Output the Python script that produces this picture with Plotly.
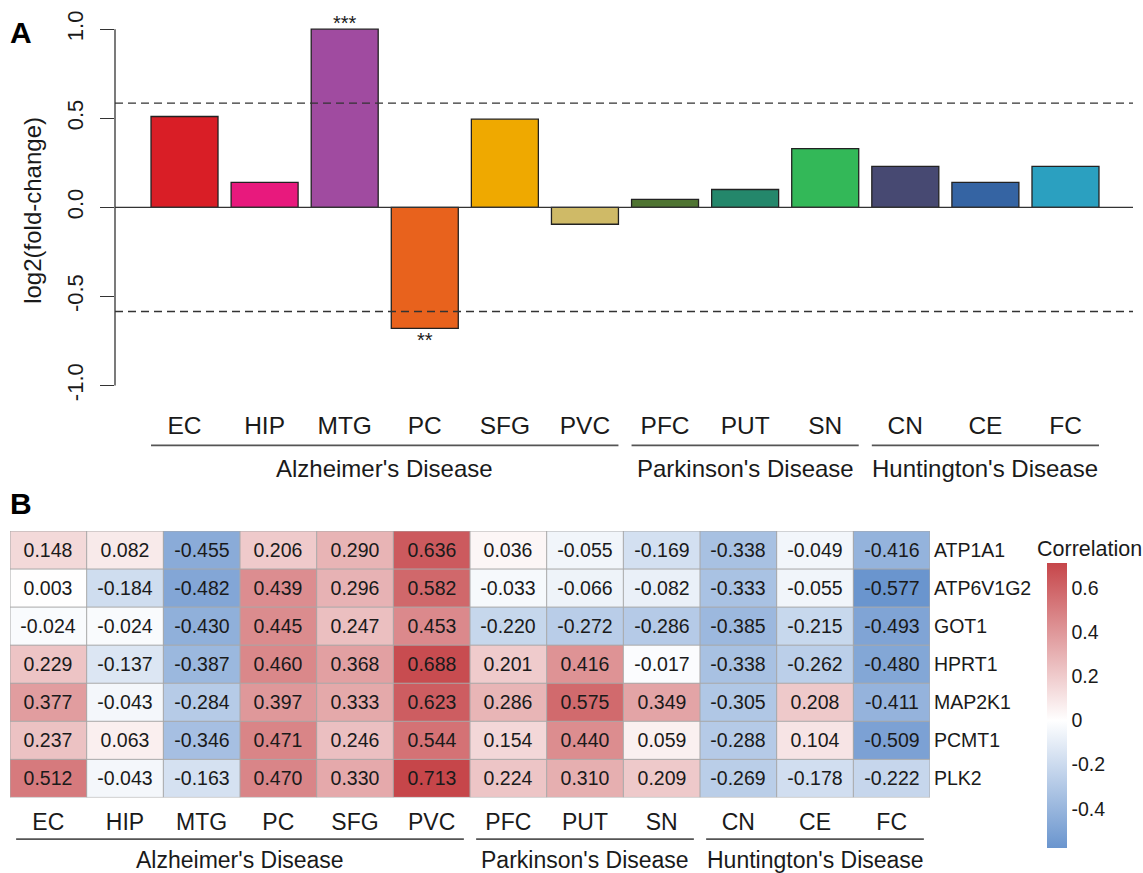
import plotly.graph_objects as go

# ---------------- data ----------------
tissues = ["EC", "HIP", "MTG", "PC", "SFG", "PVC", "PFC", "PUT", "SN", "CN", "CE", "FC"]
log2_fc = [0.51, 0.14, 1.00, -0.68, 0.495, -0.095, 0.045, 0.10, 0.33, 0.23, 0.14, 0.23]
significance = ["", "", "***", "**", "", "", "", "", "", "", "", ""]
bar_colors = ["#D91E26", "#E8197D", "#A04BA0", "#E8621D", "#EFA900", "#CFBA67",
              "#4F7432", "#24876B", "#33B858", "#474972", "#3564A3", "#2BA0C0"]
fc_threshold = 0.585
bar_yticks = [-1.0, -0.5, 0.0, 0.5, 1.0]
bar_yticklabels = ["-1.0", "-0.5", "0.0", "0.5", "1.0"]

diseases = ["Alzheimer's Disease", "Parkinson's Disease", "Huntington's Disease"]
disease_sizes = [6, 3, 3]

genes = ["ATP1A1", "ATP6V1G2", "GOT1", "HPRT1", "MAP2K1", "PCMT1", "PLK2"]
corr = [
    [0.148, 0.082, -0.455, 0.206, 0.290, 0.636, 0.036, -0.055, -0.169, -0.338, -0.049, -0.416],
    [0.003, -0.184, -0.482, 0.439, 0.296, 0.582, -0.033, -0.066, -0.082, -0.333, -0.055, -0.577],
    [-0.024, -0.024, -0.430, 0.445, 0.247, 0.453, -0.220, -0.272, -0.286, -0.385, -0.215, -0.493],
    [0.229, -0.137, -0.387, 0.460, 0.368, 0.688, 0.201, 0.416, -0.017, -0.338, -0.262, -0.480],
    [0.377, -0.043, -0.284, 0.397, 0.333, 0.623, 0.286, 0.575, 0.349, -0.305, 0.208, -0.411],
    [0.237, 0.063, -0.346, 0.471, 0.246, 0.544, 0.154, 0.440, 0.059, -0.288, 0.104, -0.509],
    [0.512, -0.043, -0.163, 0.470, 0.330, 0.713, 0.224, 0.310, 0.209, -0.269, -0.178, -0.222],
]
cbar_ticks = [-0.4, -0.2, 0, 0.2, 0.4, 0.6]
cbar_ticklabels = ["-0.4", "-0.2", "0", "0.2", "0.4", "0.6"]

# ---------------- geometry (pixels) ----------------
W, H = 1143, 873
FONT = "Liberation Sans, Arial, Helvetica, sans-serif"
INK = "#1a1a1a"


def px_x(p):
    return p / W


def px_y(p):
    return 1 - p / H


bar_width = 0.8365
xpos = list(range(len(tissues)))
ncol, nrow = len(tissues), len(genes)
zmin = min(min(r) for r in corr)
zmax = max(max(r) for r in corr)
zero_frac = -zmin / (zmax - zmin)

fig = go.Figure()

# ---------------- panel A: bar chart ----------------
fig.add_trace(go.Bar(
    x=xpos, y=log2_fc, width=bar_width,
    marker=dict(color=bar_colors, line=dict(color="#222222", width=1.3)),
    xaxis="x", yaxis="y", showlegend=False, hoverinfo="x+y",
))

# ---------------- panel B: heatmap ----------------
fig.add_trace(go.Heatmap(
    z=corr, x=list(range(ncol)), y=list(range(nrow)),
    zmin=zmin, zmax=zmax,
    colorscale=[[0, "#6A95CE"], [zero_frac, "#FFFFFF"], [1, "#C6464A"]],
    texttemplate="%{z:.3f}",
    textfont=dict(family=FONT, size=19.5, color=INK),
    xaxis="x2", yaxis="y2",
    colorbar=dict(
        x=px_x(1047), xanchor="left", y=px_y(705.5), yanchor="middle",
        len=285, lenmode="pixels", thickness=20, thicknessmode="pixels",
        outlinewidth=0, ticks="", tickvals=cbar_ticks, ticktext=cbar_ticklabels,
        tickfont=dict(family=FONT, size=19.5, color=INK), xpad=0, ypad=0,
    ),
))

shapes = []
annotations = []

# reference lines of panel A
for yv, dash in [(fc_threshold, "8px,5px"), (-fc_threshold, "8px,5px"), (0, "solid")]:
    shapes.append(dict(type="line", xref="x domain", yref="y", x0=0, x1=1, y0=yv, y1=yv,
                       line=dict(color="#333333", width=1.4, dash=dash), layer="above"))
# y axis line spanning the tick range
shapes.append(dict(type="line", xref="x domain", yref="y", x0=0, x1=0,
                   y0=bar_yticks[0], y1=bar_yticks[-1], line=dict(color="#333333", width=1.3)))

# significance stars
for i, (v, s) in enumerate(zip(log2_fc, significance)):
    if s:
        annotations.append(dict(x=i, y=v, xref="x", yref="y", text=s, showarrow=False,
                                yanchor="middle", yshift=6 if v > 0 else -12,
                                font=dict(family=FONT, size=20, color=INK)))

# disease grouping under both panels
start = 0
for name, n in zip(diseases, disease_sizes):
    end = start + n - 1
    # panel A
    x0 = start - bar_width / 2
    x1 = end + bar_width / 2
    shapes.append(dict(type="line", xref="x", yref="paper", x0=x0, x1=x1,
                       y0=px_y(444), y1=px_y(444), line=dict(color="#555555", width=1.8)))
    annotations.append(dict(x=(x0 + x1) / 2, y=px_y(467), xref="x", yref="paper", text=name,
                            showarrow=False, xanchor="center", yanchor="middle",
                            font=dict(family=FONT, size=24, color=INK)))
    # panel B
    inset = 0.08
    hx0 = start - 0.5 + inset
    hx1 = end + 0.5 - inset
    shapes.append(dict(type="line", xref="x2", yref="paper", x0=hx0, x1=hx1,
                       y0=px_y(840), y1=px_y(840), line=dict(color="#555555", width=1.8)))
    annotations.append(dict(x=(hx0 + hx1) / 2, y=px_y(861), xref="x2", yref="paper", text=name,
                            showarrow=False, xanchor="center", yanchor="middle",
                            font=dict(family=FONT, size=23, color=INK)))
    start += n

# heatmap cell borders
for k in range(ncol + 1):
    shapes.append(dict(type="line", xref="x2", yref="y2", x0=k - 0.5, x1=k - 0.5,
                       y0=-0.5, y1=nrow - 0.5, line=dict(color="#A8A8A8", width=1), layer="above"))
for k in range(nrow + 1):
    shapes.append(dict(type="line", xref="x2", yref="y2", x0=-0.5, x1=ncol - 0.5,
                       y0=k - 0.5, y1=k - 0.5, line=dict(color="#A8A8A8", width=1), layer="above"))

# panel letters, axis title, colorbar title
annotations += [
    dict(x=px_x(21), y=px_y(29), xref="paper", yref="paper", text="<b>A</b>", showarrow=False,
         xanchor="center", yanchor="middle", font=dict(family=FONT, size=30, color="#000000")),
    dict(x=px_x(21), y=px_y(502), xref="paper", yref="paper", text="<b>B</b>", showarrow=False,
         xanchor="center", yanchor="middle", font=dict(family=FONT, size=30, color="#000000")),
    dict(x=px_x(33), y=px_y(208), xref="paper", yref="paper", text="log2(fold-change)",
         textangle=-90, showarrow=False, xanchor="center", yanchor="middle",
         font=dict(family=FONT, size=24, color=INK)),
    dict(x=px_x(1035), y=px_y(548), xref="paper", yref="paper", text="Correlation",
         showarrow=False, xanchor="left", yanchor="middle",
         font=dict(family=FONT, size=21.5, color=INK)),
]

fig.update_layout(
    width=W, height=H, margin=dict(l=0, r=0, t=0, b=0),
    paper_bgcolor="white", plot_bgcolor="white",
    font=dict(family=FONT, color=INK),
    xaxis=dict(domain=[px_x(115), px_x(1133)], range=[-0.868, 11.843],
               tickvals=xpos, ticktext=tissues, ticks="", showline=False,
               showgrid=False, zeroline=False, ticklabelstandoff=9,
               tickfont=dict(family=FONT, size=24.5, color=INK)),
    yaxis=dict(domain=[px_y(398), px_y(11)], range=[-1.08, 1.08],
               tickvals=bar_yticks, ticktext=bar_yticklabels, tickangle=-90,
               ticks="outside", ticklen=14, tickwidth=1.3, tickcolor="#333333",
               showline=False, showgrid=False, zeroline=False, ticklabelstandoff=8,
               tickfont=dict(family=FONT, size=22, color=INK)),
    xaxis2=dict(domain=[px_x(10), px_x(930)], range=[-0.5, ncol - 0.5], anchor="y2",
                tickvals=list(range(ncol)), ticktext=tissues, ticks="", showline=False,
                showgrid=False, zeroline=False, ticklabelstandoff=9,
                tickfont=dict(family=FONT, size=23, color=INK)),
    yaxis2=dict(domain=[px_y(798), px_y(530)], range=[nrow - 0.5, -0.5], anchor="x2",
                side="right", tickvals=list(range(nrow)), ticktext=genes, ticks="",
                showline=False, showgrid=False, zeroline=False, ticklabelstandoff=3,
                tickfont=dict(family=FONT, size=19.5, color=INK)),
    shapes=shapes, annotations=annotations,
)

fig.write_html("out.html")
